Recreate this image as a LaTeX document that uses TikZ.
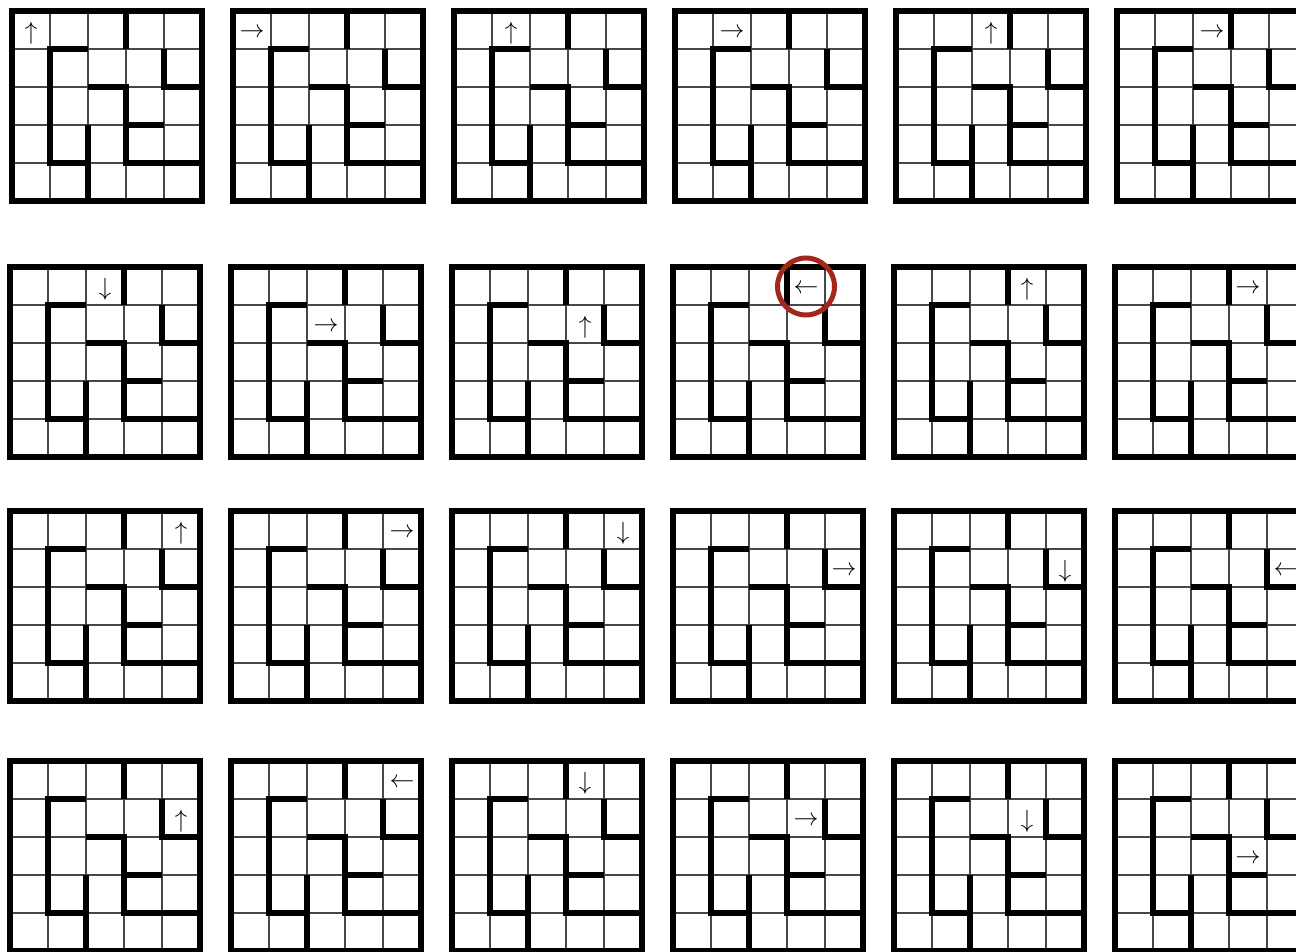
\documentclass[tikz,border=0pt]{standalone}
\definecolor{ringred}{RGB}{163,40,28}
\tikzset{
  gridline/.style={line width=1.1pt, draw=black!72},
  wall/.style={line width=6pt, line cap=butt, line join=miter, draw=black},
  mv/.style={inner sep=0pt, font=\fontsize{26}{26}\selectfont},
  ring/.style={draw=ringred, line width=5pt, circle, minimum size=57pt, inner sep=0pt}
}
\newcommand\mazepanel[2]{%
  \begin{scope}[shift={(#1+3,#2+3)}, x=38pt, y=-38pt]
    \foreach \i in {1,...,4} {
      \draw[gridline] (\i,0) -- (\i,5);
      \draw[gridline] (0,\i) -- (5,\i);
    }
    \draw[wall] (0,0) rectangle (5,5);
    \draw[wall] (3,0) -- (3,1);
    \draw[wall] (2,1) -- (1,1) -- (1,4) -- (2,4);
    \draw[wall] (2,3) -- (2,5);
    \draw[wall] (2,2) -- (3,2) -- (3,4) -- (5,4);
    \draw[wall] (3,3) -- (4,3);
    \draw[wall] (4,1) -- (4,2) -- (5,2);
  \end{scope}}
\newcommand\mvarrow[6]{%
  \node[mv] (#1) at ({#2+3+38*(#4+0.5)},{#3+6+38*(#5+0.5)}) {$#6$};}
\begin{document}
\begin{tikzpicture}[x=1pt,y=-1pt]
\useasboundingbox (0,0) rectangle (1296,952);
\clip (0,0) rectangle (1296,952);
% row 1
\mazepanel{9}{8}\mazepanel{230}{8}\mazepanel{451}{8}\mazepanel{672}{8}\mazepanel{893}{8}\mazepanel{1114}{8}
% row 2
\mazepanel{7}{264}\mazepanel{228}{264}\mazepanel{449}{264}\mazepanel{670}{264}\mazepanel{891}{264}\mazepanel{1112}{264}
% row 3
\mazepanel{7}{508}\mazepanel{228}{508}\mazepanel{449}{508}\mazepanel{670}{508}\mazepanel{891}{508}\mazepanel{1112}{508}
% row 4
\mazepanel{7}{758}\mazepanel{228}{758}\mazepanel{449}{758}\mazepanel{670}{758}\mazepanel{891}{758}\mazepanel{1112}{758}
% arrows row 1
\mvarrow{a11}{9}{8}{0}{0}{\uparrow}
\mvarrow{a12}{230}{8}{0}{0}{\rightarrow}
\mvarrow{a13}{451}{8}{1}{0}{\uparrow}
\mvarrow{a14}{672}{8}{1}{0}{\rightarrow}
\mvarrow{a15}{893}{8}{2}{0}{\uparrow}
\mvarrow{a16}{1114}{8}{2}{0}{\rightarrow}
% arrows row 2
\mvarrow{a21}{7}{264}{2}{0}{\downarrow}
\mvarrow{a22}{228}{264}{2}{1}{\rightarrow}
\mvarrow{a23}{449}{264}{3}{1}{\uparrow}
\mvarrow{a24}{670}{264}{3}{0}{\leftarrow}
\mvarrow{a25}{891}{264}{3}{0}{\uparrow}
\mvarrow{a26}{1112}{264}{3}{0}{\rightarrow}
% arrows row 3
\mvarrow{a31}{7}{508}{4}{0}{\uparrow}
\mvarrow{a32}{228}{508}{4}{0}{\rightarrow}
\mvarrow{a33}{449}{508}{4}{0}{\downarrow}
\mvarrow{a34}{670}{508}{4}{1}{\rightarrow}
\mvarrow{a35}{891}{508}{4}{1}{\downarrow}
\mvarrow{a36}{1112}{508}{4}{1}{\leftarrow}
% arrows row 4
\mvarrow{a41}{7}{758}{4}{1}{\uparrow}
\mvarrow{a42}{228}{758}{4}{0}{\leftarrow}
\mvarrow{a43}{449}{758}{3}{0}{\downarrow}
\mvarrow{a44}{670}{758}{3}{1}{\rightarrow}
\mvarrow{a45}{891}{758}{3}{1}{\downarrow}
\mvarrow{a46}{1112}{758}{3}{2}{\rightarrow}
% highlight ring
\node[ring] (hl) at (806,286.5) {};
\end{tikzpicture}
\end{document}
